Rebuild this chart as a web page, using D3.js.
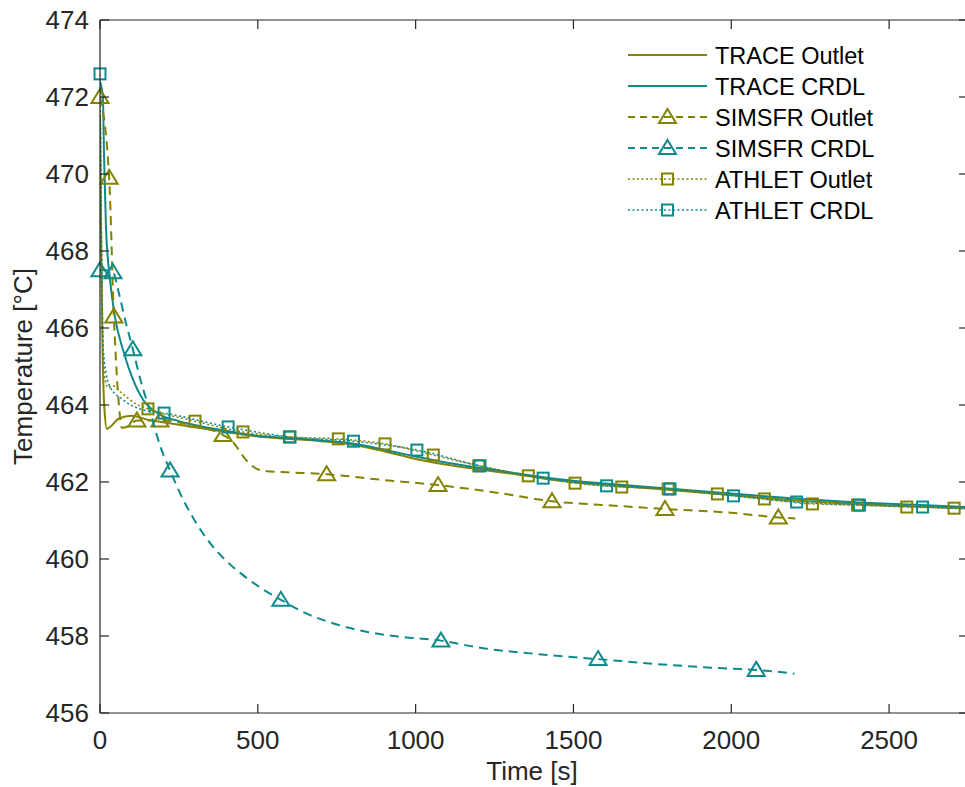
<!DOCTYPE html>
<html><head><meta charset="utf-8">
<script src="https://cdn.jsdelivr.net/npm/d3@7"></script>
<style>body{margin:0;background:#fff}svg{display:block}text{font-family:"Liberation Sans",Arial,sans-serif;fill:#262626}</style>
</head><body><svg id="c" width="965" height="787"></svg>
<script>
// ---------- data ----------
const seriesNames = ["TRACE Outlet","TRACE CRDL","SIMSFR Outlet","SIMSFR CRDL","ATHLET Outlet","ATHLET CRDL"];
const xTicks = [0,500,1000,1500,2000,2500];
const yTicks = [456,458,460,462,464,466,468,470,472,474];

const traceOutletT = [0,4,8,14,22,35,60,100,150,200,300,400,500,600,700,800,900,1000,1100,1200,1300,1400,1500,1600,1800,2000,2200,2400,2600,2750];
const traceOutletV = [471.5,468,465.5,463.9,463.38,463.45,463.65,463.72,463.62,463.55,463.42,463.3,463.18,463.12,463.06,462.97,462.8,462.6,462.45,462.33,462.22,462.1,462.0,461.93,461.8,461.66,461.52,461.43,461.36,461.32];

const traceCrdlT = [0,9,13,19,32,47,74,105,137,180,250,300,400,500,600,700,800,900,1000,1100,1200,1300,1400,1500,1600,1800,2000,2200,2400,2600,2750];
const traceCrdlV = [472.4,472.0,470.4,468.6,467.25,466.3,465.4,464.65,464.13,463.8,463.58,463.48,463.33,463.2,463.14,463.08,463.0,462.84,462.66,462.5,462.37,462.25,462.13,462.03,461.96,461.83,461.7,461.57,461.47,461.4,461.35];

const simsfrOutletT = [0,29,44,58,70,90,117,190,300,390,421,460,497,528,600,718,900,1071,1268,1432,1600,1790,2000,2149,2203];
const simsfrOutletV = [472.0,469.9,466.3,464.2,463.4,463.45,463.6,463.6,463.45,463.22,463.04,462.6,462.34,462.28,462.25,462.2,462.05,461.92,461.71,461.5,461.4,461.3,461.2,461.08,461.05];
const simsfrOutletMarkT = [0,29,44,117,190,390,718,1071,1432,1790,2149];
const simsfrOutletMarkV = [472.0,469.9,466.3,463.6,463.6,463.22,462.2,461.92,461.5,461.3,461.08];

const simsfrCrdlT = [0,20,41,60,80,104,130,160,190,222,260,300,350,400,450,500,573,650,750,850,950,1080,1200,1400,1578,1800,2000,2079,2200];
const simsfrCrdlV = [467.5,467.5,467.45,466.9,466.2,465.45,464.6,463.8,462.95,462.3,461.6,461.0,460.4,459.95,459.6,459.3,458.94,458.6,458.3,458.1,457.98,457.88,457.7,457.52,457.4,457.25,457.15,457.12,457.02];
const simsfrCrdlMarkT = [0,41,104,222,573,1080,1578,2079];
const simsfrCrdlMarkV = [467.5,467.45,465.45,462.3,458.94,457.88,457.4,457.12];

const athletOutletT = [0,4,8,14,25,40,70,110,152,301,453,600,755,903,1056,1200,1357,1505,1653,1800,1956,2105,2257,2400,2556,2706,2750];
const athletOutletV = [472.0,468.5,466.0,464.8,464.45,464.5,464.3,464.05,463.9,463.58,463.3,463.17,463.12,462.99,462.7,462.42,462.16,461.97,461.87,461.82,461.69,461.56,461.43,461.4,461.35,461.32,461.3];
const athletOutletMarkT = [152,301,453,600,755,903,1056,1200,1357,1505,1653,1800,1956,2105,2257,2400,2556,2706];
const athletOutletMarkV = [463.9,463.58,463.3,463.17,463.12,462.99,462.7,462.42,462.16,461.97,461.87,461.82,461.69,461.56,461.43,461.4,461.35,461.32];

const athletCrdlT = [0,5,10,20,32,74,137,203,406,602,803,1004,1204,1404,1605,1806,2007,2207,2406,2606,2750];
const athletCrdlV = [472.6,468.0,465.5,464.8,464.47,464.13,463.87,463.79,463.43,463.17,463.06,462.83,462.42,462.1,461.9,461.82,461.64,461.48,461.4,461.35,461.3];
const athletCrdlMarkT = [0,203,406,602,803,1004,1204,1404,1605,1806,2007,2207,2406,2606];
const athletCrdlMarkV = [472.6,463.79,463.43,463.17,463.06,462.83,462.42,462.1,461.9,461.82,461.64,461.48,461.4,461.35];

// ---------- drawing ----------
const OLIVE = "#838300", TEAL = "#0e8a8c";
const W = 965, H = 787;
const L = 100, R = 968, T = 20, B = 713;
const svg = d3.select("#c");
const x = d3.scaleLinear().domain([0,2750]).range([L,R]);
const y = d3.scaleLinear().domain([456,474]).range([B,T]);

svg.append("clipPath").attr("id","clip").append("rect").attr("x",L).attr("y",T).attr("width",R-L).attr("height",B-T);

const zip = (a,b)=>a.map((v,i)=>[v,b[i]]);
const series = [
  {name:seriesNames[0], color:OLIVE, dash:null, pts:zip(traceOutletT,traceOutletV), marks:[], marker:null},
  {name:seriesNames[1], color:TEAL, dash:null, pts:zip(traceCrdlT,traceCrdlV), marks:[], marker:null},
  {name:seriesNames[2], color:OLIVE, dash:"9,6", pts:zip(simsfrOutletT,simsfrOutletV), marks:zip(simsfrOutletMarkT,simsfrOutletMarkV), marker:"tri"},
  {name:seriesNames[3], color:TEAL, dash:"9,6", pts:zip(simsfrCrdlT,simsfrCrdlV), marks:zip(simsfrCrdlMarkT,simsfrCrdlMarkV), marker:"tri"},
  {name:seriesNames[4], color:OLIVE, dash:"2,2.5", pts:zip(athletOutletT,athletOutletV), marks:zip(athletOutletMarkT,athletOutletMarkV), marker:"sq"},
  {name:seriesNames[5], color:TEAL, dash:"2,2.5", pts:zip(athletCrdlT,athletCrdlV), marks:zip(athletCrdlMarkT,athletCrdlMarkV), marker:"sq"}
];

const line = d3.line().x(d=>x(d[0])).y(d=>y(d[1])).curve(d3.curveMonotoneX);
function drawMarker(g, type, cx, cy, color){
  if(type==="tri"){
    g.append("path").attr("d",`M${cx},${cy-8} L${cx+8.5},${cy+6} L${cx-8.5},${cy+6} Z`)
      .attr("fill","none").attr("stroke",color).attr("stroke-width",2);
  } else if(type==="sq"){
    g.append("rect").attr("x",cx-5.5).attr("y",cy-5.5).attr("width",11).attr("height",11)
      .attr("fill","none").attr("stroke",color).attr("stroke-width",2);
  }
}

const plot = svg.append("g");
series.forEach(s=>{
  const g = plot.append("g");
  g.append("path").attr("d",line(s.pts)).attr("fill","none").attr("stroke",s.color)
    .attr("stroke-width",s.dash==="2,2.5"?1.6:2).attr("stroke-dasharray",s.dash).attr("clip-path","url(#clip)");
  s.marks.forEach(m=>drawMarker(g,s.marker,x(m[0]),y(m[1]),s.color));
});

// axes box
const AX = "#262626";
const ax = svg.append("g").attr("stroke",AX).attr("stroke-width",1.2).attr("fill","none");
ax.append("line").attr("x1",L).attr("x2",L).attr("y1",T).attr("y2",B);
ax.append("line").attr("x1",L).attr("x2",R).attr("y1",B).attr("y2",B);
ax.append("line").attr("x1",L).attr("x2",R).attr("y1",T).attr("y2",T);
ax.append("line").attr("x1",R).attr("x2",R).attr("y1",T).attr("y2",B);
const TL = 9;
xTicks.forEach(t=>{
  ax.append("line").attr("x1",x(t)).attr("x2",x(t)).attr("y1",B).attr("y2",B-TL);
  ax.append("line").attr("x1",x(t)).attr("x2",x(t)).attr("y1",T).attr("y2",T+TL);
});
yTicks.forEach(t=>{
  ax.append("line").attr("x1",L).attr("x2",L+TL).attr("y1",y(t)).attr("y2",y(t));
  ax.append("line").attr("x1",R).attr("x2",R-TL).attr("y1",y(t)).attr("y2",y(t));
});
xTicks.forEach(t=>{
  svg.append("text").attr("x",x(t)).attr("y",B+36).attr("text-anchor","middle").attr("font-size",26).text(t);
});
yTicks.forEach(t=>{
  svg.append("text").attr("x",L-11).attr("y",y(t)+9).attr("text-anchor","end").attr("font-size",26).text(t);
});
svg.append("text").attr("x",(L+R)/2-2).attr("y",B+67).attr("text-anchor","middle").attr("font-size",26).text("Time [s]");
svg.append("text").attr("transform",`translate(32,${(T+B)/2}) rotate(-90)`).attr("text-anchor","middle").attr("font-size",26).text("Temperature [°C]");

// legend
const lg = svg.append("g");
const ly0 = 55, ldy = 31;
series.forEach((s,i)=>{
  const yy = ly0 + i*ldy;
  lg.append("line").attr("x1",628).attr("x2",707).attr("y1",yy).attr("y2",yy)
    .attr("stroke",s.color).attr("stroke-width",s.dash==="2,2.5"?1.6:2).attr("stroke-dasharray",s.dash==="9,6"?"7,5":s.dash);
  if(s.marker) drawMarker(lg,s.marker,667.5,yy,s.color);
  lg.append("text").attr("x",715).attr("y",yy+8.5).attr("font-size",23.5).style("fill","#000").text(s.name);
});
</script></body></html>
